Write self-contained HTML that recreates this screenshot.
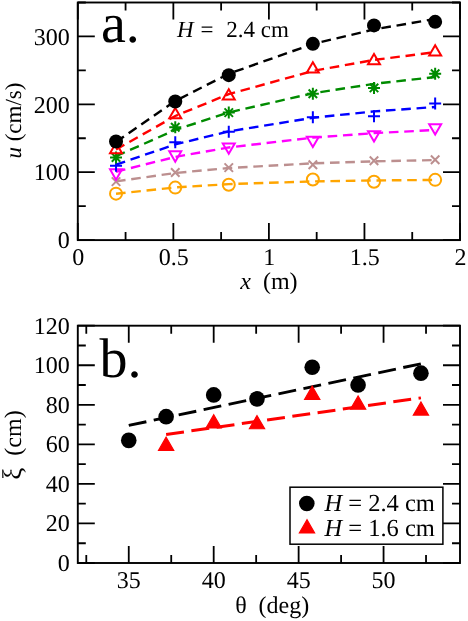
<!DOCTYPE html>
<html><head><meta charset="utf-8"><title>chart</title>
<style>html,body{margin:0;padding:0;background:#fff}svg{display:block;will-change:transform}text{font-family:"Liberation Serif",serif;fill:#000;text-rendering:geometricPrecision}</style></head><body>
<svg width="468" height="621" viewBox="0 0 468 621">
<rect width="468" height="621" fill="#fff"/>
<g id="pa">
<path d="M116.02,193.77 L175.26,187.43 L228.77,184.12 L312.85,181.41 L374.00,180.45 L435.16,179.92" fill="none" stroke="#ffa500" stroke-width="2.4" stroke-dasharray="9.6 5.75"/>
<circle cx="116.02" cy="193.64" r="6.00" fill="none" stroke="#ffa500" stroke-width="2.0"/>
<circle cx="175.26" cy="187.62" r="6.00" fill="none" stroke="#ffa500" stroke-width="2.0"/>
<circle cx="228.77" cy="184.71" r="6.00" fill="none" stroke="#ffa500" stroke-width="2.0"/>
<circle cx="312.85" cy="179.50" r="6.00" fill="none" stroke="#ffa500" stroke-width="2.0"/>
<circle cx="374.00" cy="181.80" r="6.00" fill="none" stroke="#ffa500" stroke-width="2.0"/>
<circle cx="435.16" cy="179.84" r="6.00" fill="none" stroke="#ffa500" stroke-width="2.0"/>
<path d="M116.02,181.36 L175.26,172.99 L228.77,168.03 L312.85,163.32 L374.00,161.34 L435.16,160.09" fill="none" stroke="#bc8f8f" stroke-width="2.4" stroke-dasharray="9.6 5.75"/>
<path d="M111.78,177.35L120.26,185.84M111.78,185.84L120.26,177.35" fill="none" stroke="#bc8f8f" stroke-width="2.0"/>
<path d="M171.02,168.28L179.50,176.77M171.02,176.77L179.50,168.28" fill="none" stroke="#bc8f8f" stroke-width="2.0"/>
<path d="M224.53,163.41L233.01,171.90M224.53,171.90L233.01,163.41" fill="none" stroke="#bc8f8f" stroke-width="2.0"/>
<path d="M308.61,160.50L317.10,168.99M308.61,168.99L317.10,160.50" fill="none" stroke="#bc8f8f" stroke-width="2.0"/>
<path d="M369.76,156.57L378.25,165.06M369.76,165.06L378.25,156.57" fill="none" stroke="#bc8f8f" stroke-width="2.0"/>
<path d="M430.91,155.56L439.40,164.04M430.91,164.04L439.40,155.56" fill="none" stroke="#bc8f8f" stroke-width="2.0"/>
<path d="M116.02,171.73 L175.26,156.90 L228.77,147.44 L312.85,137.65 L374.00,133.12 L435.16,130.01" fill="none" stroke="#ff00ff" stroke-width="2.4" stroke-dasharray="9.6 5.75"/>
<polygon points="116.02,179.73 110.02,169.33 122.02,169.33" fill="none" stroke="#ff00ff" stroke-width="2.0"/>
<polygon points="175.26,161.65 169.26,151.26 181.26,151.26" fill="none" stroke="#ff00ff" stroke-width="2.0"/>
<polygon points="228.77,153.80 222.77,143.41 234.77,143.41" fill="none" stroke="#ff00ff" stroke-width="2.0"/>
<polygon points="312.85,147.03 306.85,136.64 318.85,136.64" fill="none" stroke="#ff00ff" stroke-width="2.0"/>
<polygon points="374.00,141.62 368.00,131.23 380.00,131.23" fill="none" stroke="#ff00ff" stroke-width="2.0"/>
<polygon points="435.16,134.58 429.16,124.19 441.16,124.19" fill="none" stroke="#ff00ff" stroke-width="2.0"/>
<path d="M116.02,164.67 L175.26,144.40 L228.77,131.38 L312.85,117.76 L374.00,111.40 L435.16,106.99" fill="none" stroke="#0000ff" stroke-width="2.4" stroke-dasharray="9.6 5.75"/>
<path d="M110.02,165.69H122.02M116.02,159.69V171.69" fill="none" stroke="#0000ff" stroke-width="2.0"/>
<path d="M169.26,142.14H181.26M175.26,136.14V148.14" fill="none" stroke="#0000ff" stroke-width="2.0"/>
<path d="M222.77,131.78H234.77M228.77,125.78V137.78" fill="none" stroke="#0000ff" stroke-width="2.0"/>
<path d="M306.85,117.23H318.85M312.85,111.23V123.23" fill="none" stroke="#0000ff" stroke-width="2.0"/>
<path d="M368.00,116.35H380.00M374.00,110.35V122.35" fill="none" stroke="#0000ff" stroke-width="2.0"/>
<path d="M429.16,103.42H441.16M435.16,97.42V109.42" fill="none" stroke="#0000ff" stroke-width="2.0"/>
<path d="M116.02,156.14 L175.26,129.96 L228.77,112.45 L312.85,93.27 L374.00,83.83 L435.16,77.01" fill="none" stroke="#008b00" stroke-width="2.4" stroke-dasharray="9.6 5.75"/>
<path d="M110.02,157.43H122.02M116.02,151.43V163.43M111.78,153.19L120.26,161.68M111.78,161.68L120.26,153.19" fill="none" stroke="#008b00" stroke-width="2.0"/>
<path d="M169.26,127.24H181.26M175.26,121.24V133.24M171.02,123.00L179.50,131.49M171.02,131.49L179.50,123.00" fill="none" stroke="#008b00" stroke-width="2.0"/>
<path d="M222.77,112.62H234.77M228.77,106.62V118.62M224.53,108.38L233.01,116.87M224.53,116.87L233.01,108.38" fill="none" stroke="#008b00" stroke-width="2.0"/>
<path d="M306.85,93.74H318.85M312.85,87.74V99.74M308.61,89.50L317.10,97.98M308.61,97.98L317.10,89.50" fill="none" stroke="#008b00" stroke-width="2.0"/>
<path d="M368.00,87.92H380.00M374.00,81.92V93.92M369.76,83.68L378.25,92.16M369.76,92.16L378.25,83.68" fill="none" stroke="#008b00" stroke-width="2.0"/>
<path d="M429.16,73.71H441.16M435.16,67.71V79.71M430.91,69.46L439.40,77.95M430.91,77.95L439.40,69.46" fill="none" stroke="#008b00" stroke-width="2.0"/>
<path d="M116.02,149.53 L175.26,115.99 L228.77,94.15 L312.85,70.96 L374.00,59.93 L435.16,52.18" fill="none" stroke="#ff0000" stroke-width="2.4" stroke-dasharray="9.6 5.75"/>
<polygon points="116.02,142.79 110.02,153.18 122.02,153.18" fill="none" stroke="#ff0000" stroke-width="2.0"/>
<polygon points="175.26,107.93 169.26,118.32 181.26,118.32" fill="none" stroke="#ff0000" stroke-width="2.0"/>
<polygon points="228.77,89.18 222.77,99.57 234.77,99.57" fill="none" stroke="#ff0000" stroke-width="2.0"/>
<polygon points="312.85,62.17 306.85,72.57 318.85,72.57" fill="none" stroke="#ff0000" stroke-width="2.0"/>
<polygon points="374.00,53.92 368.00,64.31 380.00,64.31" fill="none" stroke="#ff0000" stroke-width="2.0"/>
<polygon points="435.16,45.19 429.16,55.58 441.16,55.58" fill="none" stroke="#ff0000" stroke-width="2.0"/>
<path d="M116.02,141.99 L175.26,101.02 L228.77,73.74 L312.85,44.00 L374.00,29.43 L435.16,18.95" fill="none" stroke="#000000" stroke-width="2.4" stroke-dasharray="9.6 5.75"/>
<circle cx="116.02" cy="141.46" r="7.00" fill="#000000"/>
<circle cx="175.26" cy="101.46" r="7.00" fill="#000000"/>
<circle cx="228.77" cy="75.13" r="7.00" fill="#000000"/>
<circle cx="312.85" cy="43.86" r="7.00" fill="#000000"/>
<circle cx="374.00" cy="25.38" r="7.00" fill="#000000"/>
<circle cx="435.16" cy="21.86" r="7.00" fill="#000000"/>
<path d="M77.80,240.1v-17M77.80,2.5v17M125.57,240.1v-8M125.57,2.5v8M173.35,240.1v-17M173.35,2.5v17M221.12,240.1v-8M221.12,2.5v8M268.90,240.1v-17M268.90,2.5v17M316.68,240.1v-8M316.68,2.5v8M364.45,240.1v-17M364.45,2.5v17M412.23,240.1v-8M412.23,2.5v8M460.00,240.1v-17M460.00,2.5v17M77.8,240.10h17M460.0,240.10h-17M77.8,206.16h8M460.0,206.16h-8M77.8,172.21h17M460.0,172.21h-17M77.8,138.27h8M460.0,138.27h-8M77.8,104.33h17M460.0,104.33h-17M77.8,70.39h8M460.0,70.39h-8M77.8,36.44h17M460.0,36.44h-17M77.8,2.50h8M460.0,2.50h-8" stroke="#000" stroke-width="1.8" fill="none"/>
<rect x="77.8" y="2.5" width="382.2" height="237.6" fill="none" stroke="#000" stroke-width="1.9"/>
<text x="69.7" y="248.30" font-size="24" text-anchor="end">0</text>
<text x="69.7" y="180.41" font-size="24" text-anchor="end">100</text>
<text x="69.7" y="112.53" font-size="24" text-anchor="end">200</text>
<text x="69.7" y="44.64" font-size="24" text-anchor="end">300</text>
<text x="78.20" y="265" font-size="24" text-anchor="middle">0</text>
<text x="173.75" y="265" font-size="24" text-anchor="middle">0.5</text>
<text x="269.30" y="265" font-size="24" text-anchor="middle">1</text>
<text x="364.85" y="265" font-size="24" text-anchor="middle">1.5</text>
<text x="460.40" y="265" font-size="24" text-anchor="middle">2</text>
<text x="268.9" y="289.3" font-size="24" text-anchor="middle" xml:space="preserve"><tspan font-style="italic">x</tspan>  (m)</text>
<text transform="translate(21.2,120.6) rotate(-90)" font-size="23" text-anchor="middle" xml:space="preserve"><tspan font-style="italic">u</tspan> (cm/s)</text>
<text x="101" y="41.7" font-size="56">a.</text>
<text x="177" y="36.9" font-size="23" font-style="italic">H</text>
<text x="200.6" y="36.9" font-size="23">=</text>
<text x="226.3" y="36.9" font-size="23">2.4 cm</text>
</g>
<g id="pb">
<path d="M128.76,425.37L420.93,363.87" stroke="#000" stroke-width="3" stroke-dasharray="18 7.5" fill="none"/>
<path d="M166.13,434.46L420.93,397.88" stroke="#ff0000" stroke-width="3" stroke-dasharray="18 7.5" fill="none"/>
<circle cx="128.76" cy="440.39" r="7.8" fill="#000"/>
<circle cx="166.13" cy="416.66" r="7.8" fill="#000"/>
<circle cx="213.69" cy="394.91" r="7.8" fill="#000"/>
<circle cx="257.01" cy="398.87" r="7.8" fill="#000"/>
<circle cx="312.22" cy="367.23" r="7.8" fill="#000"/>
<circle cx="358.08" cy="385.02" r="7.8" fill="#000"/>
<circle cx="420.93" cy="373.16" r="7.8" fill="#000"/>
<polygon points="166.13,437.16 158.53,450.32 173.73,450.32" fill="#ff0000" stroke="#ff0000" stroke-width="1.2" stroke-linejoin="miter"/>
<polygon points="213.69,414.81 206.09,427.97 221.29,427.97" fill="#ff0000" stroke="#ff0000" stroke-width="1.2" stroke-linejoin="miter"/>
<polygon points="257.01,415.60 249.41,428.77 264.61,428.77" fill="#ff0000" stroke="#ff0000" stroke-width="1.2" stroke-linejoin="miter"/>
<polygon points="312.22,386.14 304.62,399.30 319.82,399.30" fill="#ff0000" stroke="#ff0000" stroke-width="1.2" stroke-linejoin="miter"/>
<polygon points="358.08,396.02 350.48,409.19 365.68,409.19" fill="#ff0000" stroke="#ff0000" stroke-width="1.2" stroke-linejoin="miter"/>
<polygon points="420.93,401.96 413.33,415.12 428.53,415.12" fill="#ff0000" stroke="#ff0000" stroke-width="1.2" stroke-linejoin="miter"/>
<path d="M86.29,563.0v-8M86.29,325.7v8M128.76,563.0v-17M128.76,325.7v17M171.23,563.0v-8M171.23,325.7v8M213.69,563.0v-17M213.69,325.7v17M256.16,563.0v-8M256.16,325.7v8M298.63,563.0v-17M298.63,325.7v17M341.09,563.0v-8M341.09,325.7v8M383.56,563.0v-17M383.56,325.7v17M426.03,563.0v-8M426.03,325.7v8M77.8,563.00h17M460.0,563.00h-17M77.8,543.23h8M460.0,543.23h-8M77.8,523.45h17M460.0,523.45h-17M77.8,503.68h8M460.0,503.68h-8M77.8,483.90h17M460.0,483.90h-17M77.8,464.12h8M460.0,464.12h-8M77.8,444.35h17M460.0,444.35h-17M77.8,424.57h8M460.0,424.57h-8M77.8,404.80h17M460.0,404.80h-17M77.8,385.02h8M460.0,385.02h-8M77.8,365.25h17M460.0,365.25h-17M77.8,345.48h8M460.0,345.48h-8M77.8,325.70h17M460.0,325.70h-17" stroke="#000" stroke-width="1.8" fill="none"/>
<rect x="77.8" y="325.7" width="382.2" height="237.3" fill="none" stroke="#000" stroke-width="1.9"/>
<text x="69.7" y="570.90" font-size="24" text-anchor="end">0</text>
<text x="69.7" y="531.35" font-size="24" text-anchor="end">20</text>
<text x="69.7" y="491.80" font-size="24" text-anchor="end">40</text>
<text x="69.7" y="452.25" font-size="24" text-anchor="end">60</text>
<text x="69.7" y="412.70" font-size="24" text-anchor="end">80</text>
<text x="69.7" y="373.15" font-size="24" text-anchor="end">100</text>
<text x="69.7" y="333.60" font-size="24" text-anchor="end">120</text>
<text x="128.76" y="588.4" font-size="24" text-anchor="middle">35</text>
<text x="213.69" y="588.4" font-size="24" text-anchor="middle">40</text>
<text x="298.63" y="588.4" font-size="24" text-anchor="middle">45</text>
<text x="383.56" y="588.4" font-size="24" text-anchor="middle">50</text>
<text x="272.2" y="613.2" font-size="24" text-anchor="middle" xml:space="preserve">θ  (deg)</text>
<text transform="translate(20.5,445) rotate(-90)" font-size="24" text-anchor="middle" xml:space="preserve"><tspan font-size="27">ξ</tspan>  (cm)</text>
<text x="99.5" y="377.3" font-size="56">b.</text>
<rect x="290" y="487.2" width="152.89999999999998" height="57.00000000000006" fill="#fff" stroke="#000" stroke-width="1.5"/>
<circle cx="306.8" cy="503.5" r="7.8" fill="#000"/>
<polygon points="307.00,519.72 299.40,532.89 314.60,532.89" fill="#ff0000" stroke="#ff0000" stroke-width="1.2" stroke-linejoin="miter"/>
<text x="324.4" y="511.2" font-size="24.5" word-spacing="0" xml:space="preserve"><tspan font-style="italic">H</tspan> = 2.4 cm</text>
<text x="324.4" y="536.2" font-size="24.5" word-spacing="0" xml:space="preserve"><tspan font-style="italic">H</tspan> = 1.6 cm</text>
</g>
</svg></body></html>
